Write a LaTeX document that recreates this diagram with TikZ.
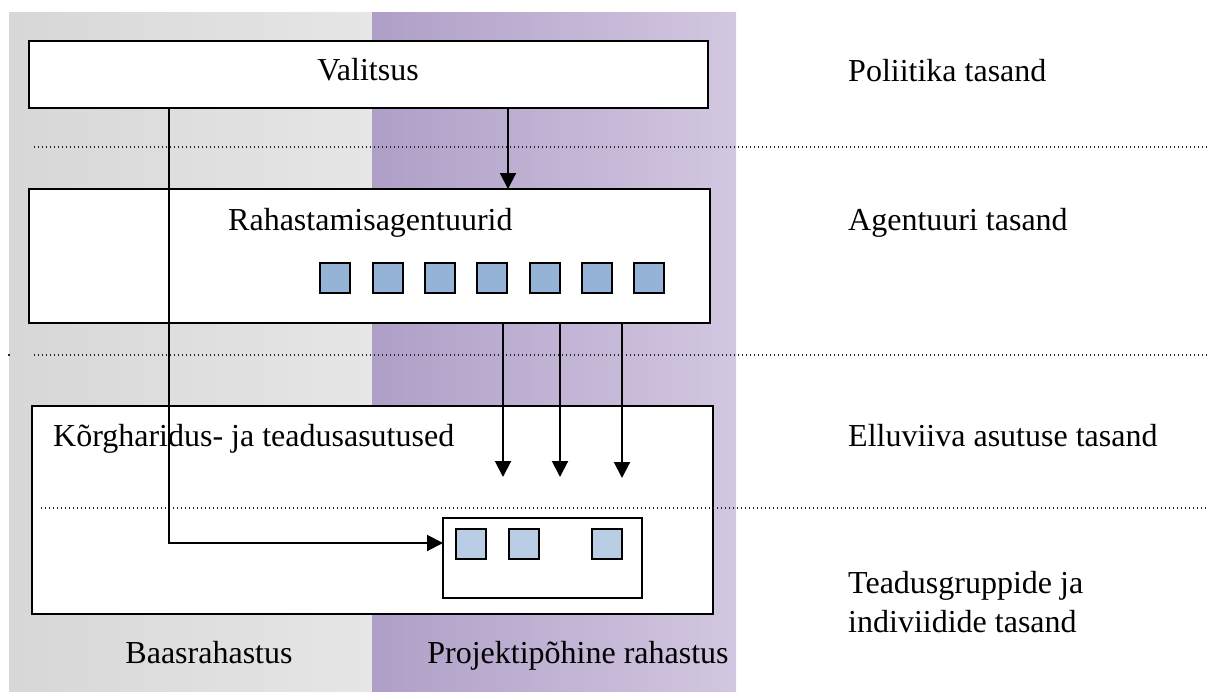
\documentclass[tikz,border=0pt]{standalone}
\usepackage{fontspec}
\setmainfont{Liberation Serif}
\usetikzlibrary{arrows.meta,calc}
\definecolor{grayL}{HTML}{D7D7D7}
\definecolor{grayR}{HTML}{E6E6E6}
\definecolor{purL}{HTML}{AF9FC7}
\definecolor{purR}{HTML}{D2C7E0}
\definecolor{sqA}{HTML}{95B3D7}
\definecolor{sqB}{HTML}{B9CDE5}
\begin{document}
\begin{tikzpicture}[x=1pt,y=-1pt,
  box/.style={draw=black, line width=2pt, fill=white, rectangle, anchor=north west, inner sep=0pt, outer sep=0pt},
  sqbox/.style={draw=black, line width=2pt, rectangle, minimum width=30pt, minimum height=30pt, inner sep=0pt},
  txt/.style={inner sep=0pt, font=\fontsize{32}{37}\selectfont},
  conn/.style={draw=black, line width=2pt},
  arr/.style={conn, -{Triangle[width=16pt,length=16pt]}},
  dotline/.style={draw=black!85, line width=1.3pt, dash pattern=on 1.4pt off 2.6pt}
]
\useasboundingbox (0,0) rectangle (1209,691);
% background bands
\shade[left color=grayL, right color=grayR] (9,12) rectangle (372,691);
\shade[left color=purL, right color=purR] (372,12) rectangle (736,691);

% boxes
\node[box, minimum width=679pt, minimum height=67pt] (val) at (29,41) {};
\node[box, minimum width=681pt, minimum height=134pt] (rah) at (29,189) {};
\node[box, minimum width=681pt, minimum height=208pt] (kor) at (32,406) {};
\node[box, minimum width=199pt, minimum height=80pt] (inn) at (443,518) {};

% squares in agency box
\foreach \i/\x in {1/335,2/388,3/440,4/492,5/545,6/597,7/649}
  \node[sqbox, fill=sqA] (a\i) at (\x,277.5) {};
% squares in inner box
\node[sqbox, fill=sqB] (b1) at (471,544) {};
\node[sqbox, fill=sqB] (b2) at (523.5,544) {};
\node[sqbox, fill=sqB] (b3) at (606.5,544) {};

% texts
\node[txt, anchor=base] (tval) at (368,80) {Valitsus};
\node[txt, anchor=base west] (trah) at (228,230) {Rahastamisagentuurid};
\node[txt, anchor=base west] (tkor) at (53,446) {Kõrgharidus- ja teadusasutused};
\node[txt, anchor=base] (tbaas) at (209,663) {Baasrahastus};
\node[txt, anchor=base] (tproj) at (578,663) {Projektipõhine rahastus};
\node[txt, anchor=base west] (l1) at (848,81) {Poliitika tasand};
\node[txt, anchor=base west] (l2) at (848,230) {Agentuuri tasand};
\node[txt, anchor=base west] (l3) at (848,446) {Elluviiva asutuse tasand};
\node[txt, anchor=base west] (l4) at (848,593) {Teadusgruppide ja};
\node[txt, anchor=base west] (l5) at (848,632) {indiviidide tasand};

% dotted level separators
\coordinate (d1a) at (34,147); \coordinate (d1b) at (1207,147);
\coordinate (d2a) at (34,355); \coordinate (d2b) at (1207,355);
\coordinate (d3a) at (41,508); \coordinate (d3b) at (1207,508);
\coordinate (d2dot) at (9,355);
\draw[dotline] (d1a) -- (d1b);
\draw[dotline] (d2a) -- (d2b);
\draw[dotline] (d3a) -- (d3b);
\fill[black!85] ($(d2dot)+(-0.8,-0.7)$) rectangle ($(d2dot)+(0.8,0.7)$);

% connectors
\coordinate (cx1) at (508,0);
\draw[arr] (val.south -| cx1) -- (rah.north -| cx1);
\coordinate (cL) at (169,543);
\draw[arr] (val.south -| cL) |- (inn.west |- cL);
\coordinate (e1) at (503,477);
\coordinate (e2) at (560,477);
\coordinate (e3) at (622,478);
\draw[arr] (rah.south -| e1) -- (e1);
\draw[arr] (rah.south -| e2) -- (e2);
\draw[arr] (rah.south -| e3) -- (e3);
\end{tikzpicture}
\end{document}
